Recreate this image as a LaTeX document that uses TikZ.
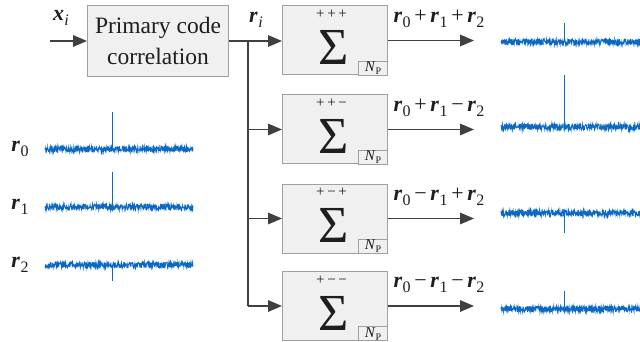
\documentclass[tikz,border=0pt]{standalone}
\usepackage{fontspec}
\setmainfont{Liberation Serif}
\newfontfamily\tnr{Liberation Serif}
\usetikzlibrary{arrows.meta}
\definecolor{sig}{RGB}{10,105,195}
\definecolor{boxfill}{RGB}{240,240,240}
\definecolor{boxline}{RGB}{160,160,160}
\definecolor{arr}{RGB}{64,64,64}
\definecolor{txt}{RGB}{30,30,30}
\newcommand{\vr}[1]{\textbf{\textit{r}}\kern0.02em\raisebox{-0.22em}{\fontsize{16}{16}\selectfont #1}}
\newcommand{\vx}[1]{\textbf{\textit{x}}\kern0.02em\raisebox{-0.22em}{\fontsize{16}{16}\selectfont #1}}
\newcommand{\noisesig}[5]{%
  \draw[sig, line width=0.8pt] plot[domain=#1:#2, samples=500] (\x, {#3+3.1*rand});
  \draw[sig, line width=0.9pt] (#4,#3) -- (#4,#5);
}
\begin{document}
\begin{tikzpicture}[x=1pt,y=-1pt,
  blk/.style={draw=boxline, fill=boxfill, line width=1pt, inner sep=0pt},
  conn/.style={draw=arr, line width=1.7pt},
  arrowc/.style={conn, -{Triangle[length=14pt,width=11.5pt]}},
  lbl/.style={font=\tnr\fontsize{22}{24}\selectfont, text=txt, inner sep=0pt},
  sgn/.style={font=\tnr\fontsize{15}{15}\selectfont, text=txt, inner sep=0pt},
  sumsym/.style={font=\tnr\fontsize{52}{52}\selectfont, text=txt, inner sep=0pt, anchor=base},
  npbox/.style={draw=boxline, fill=boxfill, line width=0.8pt, inner sep=0pt, minimum width=29pt, minimum height=14pt, anchor=south east, font=\tnr\fontsize{15}{15}\selectfont\itshape, text=txt}
]
\useasboundingbox (0,0) rectangle (640,342);
\pgfmathsetseed{7}

% primary code correlation
\node[blk, minimum width=141pt, minimum height=71pt, anchor=north west, align=center,
      font=\tnr\fontsize{23.5}{31}\selectfont, text=txt] (pc) at (87,5) {Primary code\\correlation};

% sum boxes
\foreach \k/\t/\s/\lab in {1/5.5/{+\kern0.18em+\kern0.18em+}/{\vr{0}\,+\,\vr{1}\,+\,\vr{2}},
                         2/94.5/{+\kern0.18em+\kern0.18em−}/{\vr{0}\,+\,\vr{1}\,−\,\vr{2}},
                         3/183.5/{+\kern0.18em−\kern0.18em+}/{\vr{0}\,−\,\vr{1}\,+\,\vr{2}},
                         4/271/{+\kern0.18em−\kern0.18em−}/{\vr{0}\,−\,\vr{1}\,−\,\vr{2}}}{
  \node[blk, minimum width=105pt, minimum height=69pt, anchor=north west] (s\k) at (282,\t) {};
  \node[sgn] (sg\k) at (331.5,\t+9) {\s};
  \node[sumsym] (sm\k) at (334,\t+59) {Σ};
  \node[npbox] (np\k) at (s\k.south east) {N\kern0.05em\raisebox{-0.2em}{\fontsize{10}{10}\upshape\selectfont P}};
  \node[lbl] (lab\k) at (439,\t+13.5) {\lab};
  \coordinate (o\k) at ([xshift=86pt]s\k.east);
  \draw[arrowc] (s\k.east) -- (o\k);
}

% input
\coordinate (in) at ([xshift=-37pt]pc.west);
\draw[arrowc] (in) -- (pc.west);
\node[lbl] (xi) at (61,18) {\vx{\textit{i}}};

% branch
\coordinate (br) at ([xshift=19pt]pc.east);
\draw[conn] (pc.east) -- (br);
\draw[arrowc] (br) -- (br -| s1.west);
\draw[conn] (br) -- (br |- s4.west);
\foreach \k in {2,3,4}{
  \draw[arrowc] (br |- s\k.west) -- (s\k.west);
}
\node[lbl] (ri) at (256,20) {\vr{\textit{i}}};

% left signals
\node[lbl] (r0) at (20,149) {\vr{0}};
\node[lbl] (r1) at (20,207) {\vr{1}};
\node[lbl] (r2) at (20,265) {\vr{2}};
\noisesig{45}{193}{149}{112}{112}
\noisesig{45}{193}{207}{112}{172}
\noisesig{45}{193}{265}{112}{281}

% right signals
\noisesig{501}{645}{42}{564}{23}
\noisesig{501}{645}{127}{564}{75}
\noisesig{501}{645}{213}{564}{233}
\noisesig{501}{645}{309}{564}{291}
\end{tikzpicture}
\end{document}
